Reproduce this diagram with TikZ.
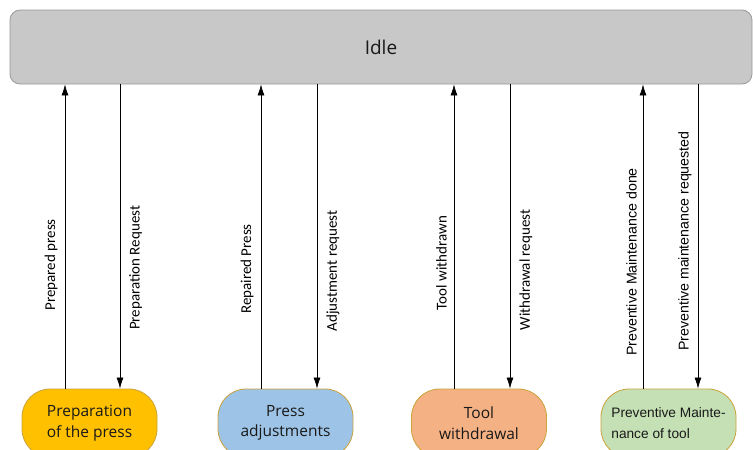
\documentclass[tikz,border=0pt]{standalone}
\usepackage{fontspec}
\setmainfont{Open Sans}
\newfontfamily\lblfont{Carlito}
\newfontfamily\arialfont{Liberation Sans}
\usetikzlibrary{arrows.meta,calc}
\definecolor{idlefill}{HTML}{C8C8C8}
\definecolor{idleborder}{HTML}{9A9A9A}
\definecolor{stateborder}{HTML}{C9A23A}
\definecolor{prepfill}{HTML}{FFC000}
\definecolor{pressfill}{HTML}{9DC3E6}
\definecolor{toolfill}{HTML}{F4B183}
\definecolor{pmfill}{HTML}{C5E0B4}
\tikzset{
  idlebox/.style={draw=idleborder, fill=idlefill, rounded corners=10pt, minimum width=742pt, minimum height=74pt, font=\fontsize{19}{22}\selectfont, line width=0.8pt, text=black!90},
  statebox/.style={draw=stateborder, rounded corners=28pt, minimum width=135pt, minimum height=68pt, font=\fontsize{15.5}{20.5}\selectfont, align=center, line width=0.8pt, text=black!90},
  flow/.style={-{Latex[length=11pt,width=7pt]}, line width=0.7pt},
  lblL/.style={rotate=90, anchor=south, inner xsep=0pt, inner ysep=7pt, font=\lblfont\fontsize{15}{17}\selectfont},
  lblR/.style={rotate=90, anchor=north, inner xsep=0pt, inner ysep=9pt, font=\lblfont\fontsize{15}{17}\selectfont},
  lblA/.style={rotate=90, anchor=south, inner xsep=0pt, inner ysep=6pt, font=\arialfont\fontsize{14.2}{16}\selectfont},
}
\begin{document}
\begin{tikzpicture}[x=1pt,y=-1pt]
\useasboundingbox (0,0) rectangle (753,450);
\clip (0,0) rectangle (753,450);
\fill[white] (0,0) rectangle (753,450);

\node[idlebox] (idle) at (381,47) {Idle};

\node[statebox, fill=prepfill] (prep) at (89.5,423) {Preparation\\of the press};
\node[statebox, fill=pressfill] (press) at (285.5,423) {Press\\adjustments};
\node[statebox, fill=toolfill] (tool) at (479,423) {Tool\\withdrawal};
\node[statebox, fill=pmfill, align=left, font=\arialfont\fontsize{13.7}{20.5}\selectfont] (pm) at (668.5,423) {Preventive Mainte-\\nance of tool};

\coordinate (u1) at ([xshift=-24.5pt]prep.north);
\coordinate (d1) at ([xshift=30.5pt]prep.north);
\coordinate (u2) at ([xshift=-24.5pt]press.north);
\coordinate (d2) at ([xshift=31.5pt]press.north);
\coordinate (u3) at ([xshift=-25pt]tool.north);
\coordinate (d3) at ([xshift=31pt]tool.north);
\coordinate (u4) at ([xshift=-25.5pt]pm.north);
\coordinate (d4) at ([xshift=29.5pt]pm.north);

\draw[flow] (u1) -- (u1 |- idle.south) node[lblL, pos=0.407] {Prepared press};
\draw[flow] (d1 |- idle.south) -- (d1) node[lblR, pos=0.603] {Preparation Request};
\draw[flow] (u2) -- (u2 |- idle.south) node[lblL, pos=0.393] {Repaired Press};
\draw[flow] (d2 |- idle.south) -- (d2) node[lblR, pos=0.613] {Adjustment request};
\draw[flow] (u3) -- (u3 |- idle.south) node[lblL, pos=0.413] {Tool withdrawn};
\draw[flow] (d3 |- idle.south) -- (d3) node[lblR, pos=0.610] {Withdrawal request};
\draw[flow] (u4) -- (u4 |- idle.south) node[lblA, pos=0.416] {Preventive Maintenance done};
\draw[flow] (d4 |- idle.south) -- (d4) node[lblA, pos=0.515] {Preventive maintenance requested};
\end{tikzpicture}
\end{document}
